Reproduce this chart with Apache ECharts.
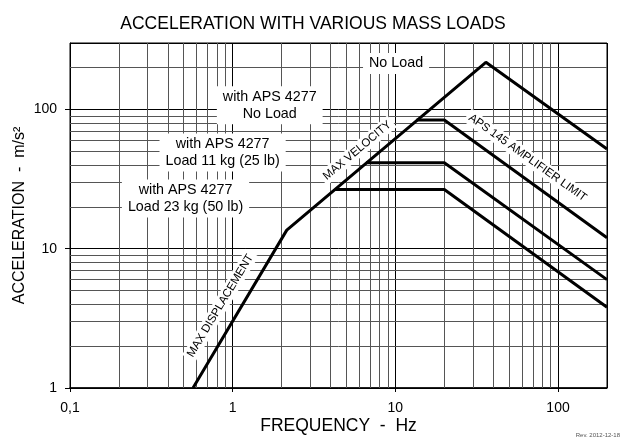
<!DOCTYPE html>
<html lang="en">
<head>
    <meta charset="UTF-8">
    <title>Acceleration with various mass loads</title>
    <script type="text/javascript" src="https://cdn.jsdelivr.net/npm/echarts@6.0.0/dist/echarts.min.js"></script>
    <style type="text/css">
        html, body {
            margin: 0;
            padding: 0;
            width: 100%;
            height: 100%;
            background: #fff;
        }
        #echarts {
            width: 626px;
            height: 439px;
        }
    </style>
</head>
<body>

<div id="echarts"></div>

<script type="text/javascript">
    // curves, [frequency Hz, acceleration m/s2]
    var noLoad     = [[0.57, 1], [2.15, 13.6], [36, 218], [200, 52]];
    var apsNoLoad  = [[13.5, 84], [20, 84], [200, 12]];
    var apsLoad11  = [[6.6, 41.4], [20, 41.4], [200, 6]];
    var apsLoad23  = [[4.25, 26.6], [20, 26.6], [200, 3.8]];

    var xMinorGrid = [0.2, 0.3, 0.4, 0.5, 0.6, 0.7, 0.8, 0.9,
                      2, 3, 4, 5, 6, 7, 8, 9,
                      20, 30, 40, 50, 60, 70, 80, 90];
    var yMinorGrid = [2, 3, 4, 5, 6, 7, 8, 9,
                      20, 30, 40, 50, 60, 70, 80, 90, 200];

    // annotations: text, anchor [Hz, m/s2], rotation
    var notes = [
        ['No Load', [10.1, 214], 0],
        ['with APS 4277\nNo Load', [1.69, 107], 0],
        ['with APS 4277\nLoad 11 kg (25 lb)', [0.867, 49], 0],
        ['with APS 4277\nLoad 23 kg (50 lb)', [0.513, 22.9], 0],
        ['MAX DISPLACEMENT', [0.84, 3.9], 59],
        ['MAX VELOCITY', [5.83, 50.7], 40],
        ['APS 145 AMPLIFIER LIMIT', [65, 45], -35.5]
    ];

    var font = 'Liberation Sans, Arial, sans-serif';
    var myChart = echarts.init(document.getElementById('echarts'));

    function curve(data) {
        return {
            type: 'line',
            data: data,
            symbol: 'none',
            silent: true,
            lineStyle: { color: '#000', width: 3 },
            z: 5
        };
    }

    var option = {
        animation: false,
        backgroundColor: '#fff',
        title: {
            text: 'ACCELERATION WITH VARIOUS MASS LOADS',
            left: 'center',
            top: 10,
            textStyle: { fontFamily: font, fontSize: 17.5, fontWeight: 'normal', color: '#000' }
        },
        grid: {
            left: 70, right: 19, top: 43, bottom: 51,
            outerBoundsMode: 'none',
            show: true, borderColor: '#000', borderWidth: 1
        },
        xAxis: {
            type: 'log',
            logBase: 10,
            min: 0.1,
            max: 200,
            name: 'FREQUENCY  -  Hz',
            nameLocation: 'middle',
            nameGap: 29,
            nameMoveOverlap: false,
            nameTextStyle: { fontFamily: font, fontSize: 17.5, color: '#000' },
            axisLine: { lineStyle: { color: '#000', width: 1.5 } },
            axisTick: { show: true, length: 4, inside: false, lineStyle: { color: '#000' } },
            axisLabel: {
                fontFamily: font, fontSize: 14, color: '#000', margin: 13,
                showMaxLabel: false,
                formatter: function (v) { return v < 1 ? '0,1' : String(Math.round(v)); }
            },
            splitLine: { show: true, lineStyle: { color: '#000', width: 1 } }
        },
        yAxis: {
            type: 'log',
            logBase: 10,
            min: 1,
            max: 300,
            name: 'ACCELERATION  -  m/s²',
            nameLocation: 'middle',
            nameGap: 42,
            nameRotate: 90,
            nameMoveOverlap: false,
            nameTextStyle: { fontFamily: font, fontSize: 16, color: '#000' },
            axisLine: { lineStyle: { color: '#000', width: 1 } },
            axisTick: { show: true, length: 5, lineStyle: { color: '#000' } },
            axisLabel: {
                fontFamily: font, fontSize: 14, color: '#000', margin: 13,
                showMaxLabel: false,
                formatter: function (v) { return String(Math.round(v)); }
            },
            splitLine: { show: true, lineStyle: { color: '#000', width: 1 } }
        },
        graphic: [{
            type: 'text',
            right: 6,
            bottom: 1,
            style: { text: 'Rev. 2012-12-18', font: '6px ' + font, fill: '#555' }
        }],
        series: [
            {
                type: 'line',
                data: [],
                silent: true,
                markLine: {
                    silent: true,
                    symbol: 'none',
                    label: { show: false },
                    lineStyle: { color: '#555', width: 1, type: 'solid' },
                    data: xMinorGrid.map(function (v) { return { xAxis: v }; })
                        .concat(yMinorGrid.map(function (v) { return { yAxis: v }; }))
                },
                z: 1
            },
            curve(noLoad),
            curve(apsNoLoad),
            curve(apsLoad11),
            curve(apsLoad23),
            {
                type: 'scatter',
                data: [],
                silent: true,
                z: 10,
                markPoint: {
                    silent: true,
                    symbol: 'rect',
                    symbolSize: 0,
                    data: notes.map(function (n) {
                        return {
                            coord: n[1],
                            label: {
                                show: true,
                                position: 'inside',
                                formatter: n[0],
                                rotate: n[2],
                                fontFamily: font,
                                fontSize: n[2] ? 11.5 : 14.3,
                                lineHeight: n[2] ? 13 : 17,
                                color: '#000',
                                align: 'center',
                                backgroundColor: '#fff',
                                padding: n[2] ? [1, 3] : [2, 6]
                            }
                        };
                    })
                }
            }
        ]
    };
    myChart.setOption(option);
</script>

</body>
</html>
